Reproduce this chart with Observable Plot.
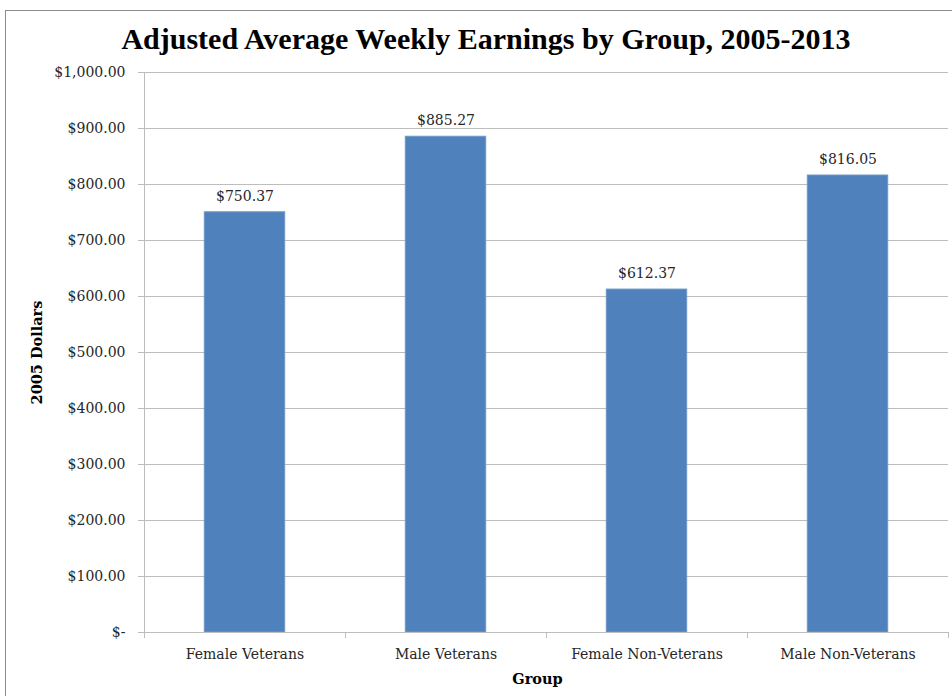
<!DOCTYPE html>
<html>
<head>
<meta charset="utf-8">
<script src="https://cdn.jsdelivr.net/npm/d3@7"></script>
<script src="https://cdn.jsdelivr.net/npm/@observablehq/plot@0.6"></script>
<style>
  body { margin: 0; background: #fff; }
  #wrap { position: relative; width: 952px; height: 696px; overflow: hidden; background: #fff; }
  #frame { position: absolute; left: 5px; top: 10px; width: 960px; height: 700px; border: 1.5px solid #8c8c8c; box-sizing: border-box; }
  #title { position: absolute; left: 10px; top: 22px; width: 952px; text-align: center;
           font-family: "Liberation Serif", serif; font-weight: bold; font-size: 30px; color: #000; }
  #chart { position: absolute; left: 0; top: 0; }
</style>
</head>
<body>
<div id="wrap">
  <div id="frame"></div>
  <div id="chart"></div>
  <div id="title">Adjusted Average Weekly Earnings by Group, 2005-2013</div>
</div>
<script>
const categories = ["Female Veterans", "Male Veterans", "Female Non-Veterans", "Male Non-Veterans"];
const earnings = [750.37, 885.27, 612.37, 816.05];
const yTicks = [0, 100, 200, 300, 400, 500, 600, 700, 800, 900, 1000];
const yLabel = "2005 Dollars";
const xLabel = "Group";

const data = categories.map((c, i) => ({ category: c, index: i, value: earnings[i] }));
const money = d3.format(",.2f");
const fmtTick = d => d === 0 ? "$-" : "$" + money(d);
const font = "DejaVu Serif, serif";

const chart = Plot.plot({
  width: 952,
  height: 696,
  marginLeft: 144,
  marginRight: 4,
  marginTop: 72,
  marginBottom: 64,
  style: { fontFamily: font, fontSize: "14px", color: "#262626", background: "transparent" },
  x: { type: "linear", domain: [0, categories.length] },
  y: { domain: [0, 1000] },
  marks: [
    Plot.gridY(yTicks, { stroke: "#bdbdbd", strokeOpacity: 1 }),
    Plot.rectY(data, { x1: d => d.index + 0.3, x2: d => d.index + 0.7, y: "value", fill: "#4f81bd", stroke: "#6f97c9", strokeWidth: 1 }),
    Plot.ruleX([0], { stroke: "#bdbdbd" }),
    Plot.ruleY([0], { stroke: "#bdbdbd" }),
    Plot.axisY({ ticks: yTicks, tickFormat: fmtTick, tickSize: 6, tickPadding: 13, stroke: "#bdbdbd", label: null, fill: "#262626", fontSize: 14 }),
    Plot.axisX({ ticks: d3.range(categories.length + 1), tickFormat: () => "", tickSize: 6, stroke: "#bdbdbd", label: null }),
    Plot.axisX({ ticks: categories.map((c, i) => i + 0.5), tickFormat: (d) => categories[Math.floor(d)], tickSize: 0, tickPadding: 17, label: null, fill: "#262626", fontSize: 14 }),
    Plot.text(data, { x: d => d.index + 0.5, y: "value", text: d => "$" + money(d.value), dy: -16, fontSize: 14, fill: "#262626" }),
    Plot.text([yLabel], { frameAnchor: "left", textAnchor: "middle", rotate: -90, dx: -107, fontWeight: "bold", fontSize: 14.5, fill: "#000" }),
    Plot.text([xLabel], { frameAnchor: "bottom", textAnchor: "middle", dy: 51, dx: -9, fontWeight: "bold", fontSize: 14.5, fill: "#000" })
  ]
});
document.getElementById("chart").appendChild(chart);
</script>
</body>
</html>
